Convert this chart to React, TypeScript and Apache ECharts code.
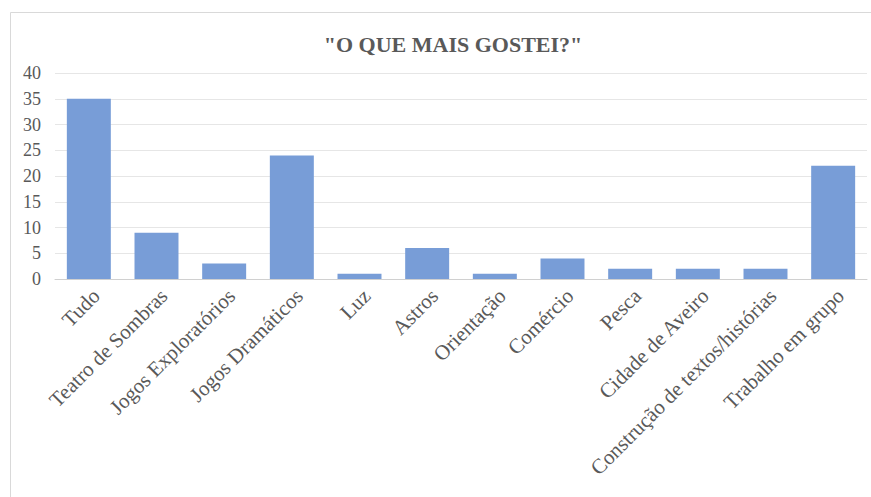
import React, { useEffect, useRef } from "react";
import * as echarts from "echarts";

const categories = [
  "Tudo",
  "Teatro de Sombras",
  "Jogos Exploratórios",
  "Jogos Dramáticos",
  "Luz",
  "Astros",
  "Orientação",
  "Comércio",
  "Pesca",
  "Cidade de Aveiro",
  "Construção de textos/histórias",
  "Trabalho em grupo",
];
const values = [35, 9, 3, 24, 1, 6, 1, 4, 2, 2, 2, 22];
const title = '"O QUE MAIS GOSTEI?"';

const serif = "'Liberation Serif', 'Times New Roman', serif";

export default function App() {
  const ref = useRef<HTMLDivElement>(null);
  useEffect(() => {
    if (!ref.current) return;
    const chart = echarts.init(ref.current, undefined, { renderer: "svg" });
    chart.setOption({
      animation: false,
      backgroundColor: "#ffffff",
      title: {
        text: title,
        left: 448,
        top: 28,
        textAlign: "center",
        textStyle: {
          fontFamily: serif,
          fontSize: 22,
          fontWeight: "bold",
          color: "#595959",
        },
      },
      graphic: [
        {
          type: "rect",
          shape: { x: 10.5, y: 12.5, width: 900, height: 520 },
          style: { fill: "none", stroke: "#d9d9d9", lineWidth: 1 },
          silent: true,
        },
      ],
      grid: { left: 55, right: 4, top: 73, bottom: 218, containLabel: false },
      xAxis: {
        type: "category",
        data: categories,
        axisLine: { show: true, lineStyle: { color: "#d0d0d0", width: 1 } },
        axisTick: { show: false },
        axisLabel: {
          interval: 0,
          rotate: 45,
          margin: 6,
          verticalAlign: "top",
          fontFamily: serif,
          fontSize: 21,
          color: "#595959",
        },
      },
      yAxis: {
        type: "value",
        min: 0,
        max: 40,
        interval: 5,
        axisLine: { show: false },
        axisTick: { show: false },
        splitLine: { lineStyle: { color: "#e6e6e6", width: 1 } },
        axisLabel: {
          margin: 14,
          fontFamily: serif,
          fontSize: 18,
          color: "#595959",
        },
      },
      series: [
        {
          type: "bar",
          data: values,
          barCategoryGap: "35%",
          itemStyle: { color: "#789dd7" },
        },
      ],
    });
    return () => chart.dispose();
  }, []);
  return (
    <div
      ref={ref}
      style={{ position: "fixed", left: 0, top: 0, width: 871, height: 497 }}
    />
  );
}
